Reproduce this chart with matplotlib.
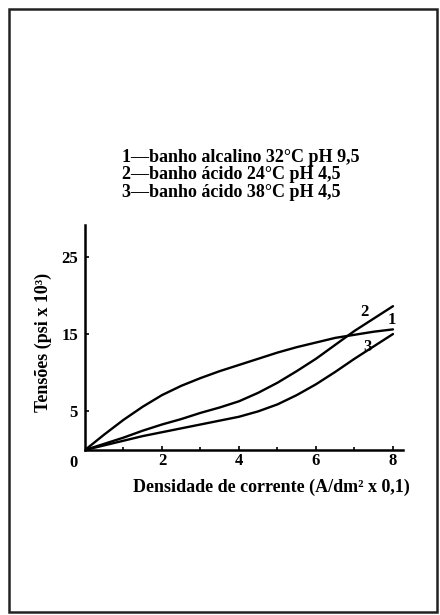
import matplotlib.pyplot as plt
import numpy as np
from matplotlib.patches import Rectangle

# densidade de corrente (A/dm2 x 0,1)
x = np.array([0, 0.5, 1, 1.5, 2, 2.5, 3, 3.5, 4, 4.5, 5, 5.5, 6, 6.5, 7, 7.5, 8])
# tensoes (psi x 10^3)
banho1 = np.array([0, 2.0, 3.9, 5.6, 7.1, 8.3, 9.3, 10.2, 11.0, 11.8, 12.6, 13.3, 13.9, 14.5, 14.9, 15.3, 15.6])
banho2 = np.array([0, 0.8, 1.6, 2.5, 3.3, 4.0, 4.8, 5.5, 6.3, 7.4, 8.7, 10.2, 11.8, 13.6, 15.4, 17.0, 18.6])
banho3 = np.array([0, 0.6, 1.2, 1.8, 2.3, 2.8, 3.3, 3.8, 4.3, 5.0, 5.9, 7.1, 8.5, 10.1, 11.8, 13.4, 15.0])
curve_labels = ["1", "2", "3"]
legend_lines = ["1\u2014banho alcalino 32\u00b0C pH 9,5",
                "2\u2014banho \u00e1cido 24\u00b0C pH 4,5",
                "3\u2014banho \u00e1cido 38\u00b0C pH 4,5"]
xticks = [2, 4, 6, 8]
yticks = [5, 15, 25]

plt.rcParams["font.family"] = ["Liberation Serif", "DejaVu Serif"]

fig = plt.figure(figsize=(4.4, 6.15), dpi=100)
ax = fig.add_axes([85 / 440, (615 - 450) / 615, 317.6 / 440, 225 / 615])

for y in (banho1, banho2, banho3):
    ax.plot(x, y, color="black", lw=1.7, solid_capstyle="round")

ax.set_xlim(0, 8.25)
ax.set_ylim(0, 29.1)
ax.spines["top"].set_visible(False)
ax.spines["right"].set_visible(False)
ax.spines["left"].set_linewidth(1.8)
ax.spines["bottom"].set_linewidth(1.8)
ax.set_xticks(xticks)
ax.set_yticks(yticks)
ax.set_xticks([1, 3, 5, 7], minor=True)
ax.tick_params(direction="in", length=3, width=1.2, labelsize=12, pad=2)
ax.tick_params(axis="y", pad=5)
ax.tick_params(which="minor", direction="in", length=2, width=1.2)
for lab in ax.get_xticklabels() + ax.get_yticklabels():
    lab.set_fontweight("bold")
ax.text(-0.2, -0.6, "0", ha="right", va="top", fontsize=12, fontweight="bold")

ax.text(7.27, 17.9, curve_labels[1], fontsize=12, fontweight="bold", ha="center", va="center")
ax.text(7.98, 16.8, curve_labels[0], fontsize=12, fontweight="bold", ha="center", va="center")
ax.text(7.35, 13.3, curve_labels[2], fontsize=12, fontweight="bold", ha="center", va="center")

ax.set_xlabel("Densidade de corrente (A/dm\u00b2 x 0,1)", fontsize=13, fontweight="bold")
ax.xaxis.set_label_coords((271 - 85) / 317.6, -29 / 225)
ax.set_ylabel("Tens\u00f5es (psi x 10\u00b3)", fontsize=13, fontweight="bold")
ax.yaxis.set_label_coords(-33 / 317.6, 0.48)

for i, t in enumerate(legend_lines):
    fig.text(122 / 440, 1 - (157 + 17.8 * i) / 615, t, fontsize=13, fontweight="bold", va="center")

fig.patches.append(Rectangle((9 / 440, 3 / 615), 428 / 440, 603 / 615, transform=fig.transFigure,
                             fill=False, lw=1.8, edgecolor="#222222"))

fig.savefig("out.png", dpi=100)
